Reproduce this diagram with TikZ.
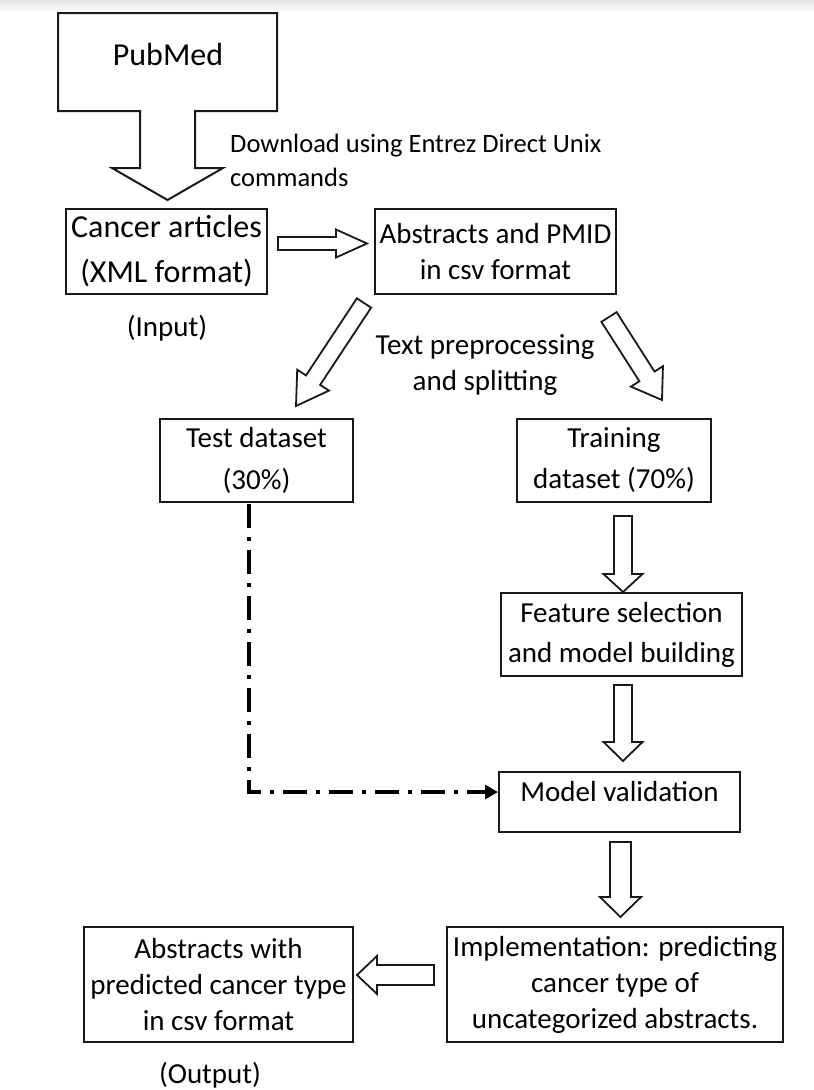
\documentclass[tikz,border=0pt]{standalone}
\usepackage{fontspec}
\setmainfont{Carlito}
\usetikzlibrary{calc,arrows.meta}
\newcommand{\blockarr}[5]{%
  \coordinate (#1b) at ($(#2)!#5!(#1)$);
  \draw[barrow] ($(#1)!#3!90:(#2)$) -- ($(#1b)!#3!90:(#2)$) -- ($(#1b)!#4!90:(#2)$) -- (#2)
    -- ($(#1b)!#4!-90:(#2)$) -- ($(#1b)!#3!-90:(#2)$) -- ($(#1)!#3!-90:(#2)$) -- cycle;}
\tikzset{
  box/.style={draw=black!90, line width=2pt, inner sep=0pt, align=center, fill=white},
  txt/.style={inner sep=0pt, align=center},
  barrow/.style={draw=black!90, line width=1.8pt, fill=white, line join=miter},
  dashdot/.style={line width=4pt, dash pattern=on 24pt off 9pt on 4pt off 9pt, -{Triangle[length=13pt,width=14pt]}}
}
\begin{document}
\begin{tikzpicture}[x=1pt,y=-1pt, font=\fontsize{29}{36}\selectfont]
\useasboundingbox (0,0) rectangle (814,1090);
\fill[white] (0,0) rectangle (814,1090);
\shade[top color=black!10, bottom color=white] (0,0) rectangle (814,12);

% PubMed callout
\draw[barrow, line width=2pt] (58,13) -- (277,13) -- (277,111) -- (195,111) -- (195,168) -- (223,168)
  -- (167.5,200) -- (112,168) -- (140,168) -- (140,111) -- (58,111) -- cycle;
\node[txt, font=\fontsize{32}{38}\selectfont] (pub) at (168,55) {PubMed};
\node[txt, anchor=west, align=left, font=\fontsize{26.5}{34}\selectfont] (dl) at (230,160) {Download using Entrez Direct Unix\\commands};

% boxes
\node[box, minimum width=201, minimum height=85, font=\fontsize{32}{45}\selectfont] (cancer) at (166.5,251.5) {Cancer articles\\(XML format)};
\node[box, minimum width=241, minimum height=85] (abs) at (495.5,251.5) {Abstracts and PMID\\in csv format};
\node[txt] (input) at (167,328) {(Input)};
\node[txt] (split) at (485,365) {Text preprocessing\\and splitting};
\node[box, minimum width=193, minimum height=83, font=\fontsize{29}{42}\selectfont] (test) at (256.5,460.5) {Test dataset\\(30\%)};
\node[box, minimum width=194, minimum height=83, font=\fontsize{29}{41}\selectfont] (train) at (614,460.5) {Training\\dataset (70\%)};
\node[box, minimum width=241, minimum height=83, font=\fontsize{29}{40}\selectfont] (feat) at (621.5,634.5) {Feature selection\\and model building};
\node[box, minimum width=241, minimum height=60] (val) at (619.5,802) {};
\node[txt] (valtxt) at (619.5,792) {Model validation};
\node[box, minimum width=336, minimum height=115] (impl) at (615,984.5) {Implementation: predicting\\cancer type of\\uncategorized abstracts.};
\node[box, minimum width=269, minimum height=115] (out) at (218.5,984.5) {Abstracts with\\predicted cancer type\\in csv format};
\node[txt] (output) at (210,1075) {(Output)};

% block arrows
\coordinate (a1s) at ($(cancer.east)+(10,-8)$);
\coordinate (a1e) at ($(abs.west)+(-7,-8)$);
\blockarr{a1s}{a1e}{6.5pt}{14pt}{31pt}
\coordinate (a2s) at ($(abs.south west)+(-10,8)$);
\coordinate (a2e) at ($(test.north east)+(-58,-12)$);
\blockarr{a2s}{a2e}{8.5pt}{19pt}{31pt}
\coordinate (a3s) at ($(abs.south east)+(-8,22)$);
\coordinate (a3e) at ($(train.north)+(48,-18)$);
\blockarr{a3s}{a3e}{9pt}{19pt}{28pt}
\coordinate (a4s) at ($(feat.north)+(1.5,-76)$);
\coordinate (a4e) at ($(feat.north)+(1.5,0)$);
\blockarr{a4s}{a4e}{9pt}{19.5pt}{18pt}
\coordinate (a5s) at ($(feat.south)+(1.5,8)$);
\coordinate (a5e) at ($(val.north)+(3.5,-10)$);
\blockarr{a5s}{a5e}{9pt}{19.5pt}{19pt}
\coordinate (a6s) at ($(val.south)+(1,9)$);
\coordinate (a6e) at ($(impl.north)+(5.5,-9)$);
\blockarr{a6s}{a6e}{10.5pt}{20.5pt}{20pt}
\coordinate (a7s) at ($(impl.west)+(-12,-9.5)$);
\coordinate (a7e) at ($(out.east)+(3,-9.5)$);
\blockarr{a7s}{a7e}{10pt}{19pt}{20pt}

% dash-dot connector
\coordinate (tb) at ($(test.south)+(-7.5,1)$);
\coordinate (vin) at ($(val.west)+(0,-10)$);
\draw[dashdot] (tb) |- (vin);
\end{tikzpicture}
\end{document}
